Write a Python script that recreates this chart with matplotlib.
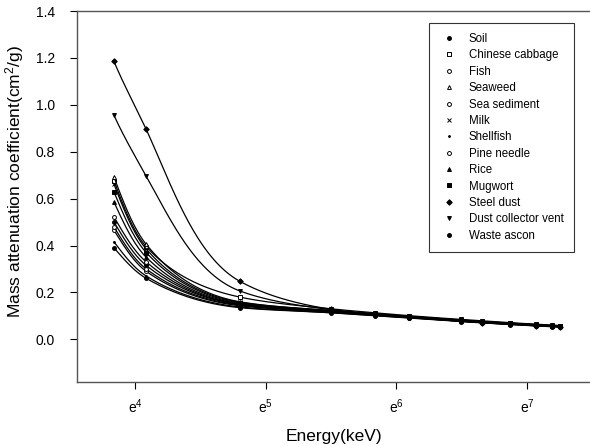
import matplotlib.pyplot as plt
import numpy as np
from matplotlib.ticker import FixedLocator, FuncFormatter

plt.rcParams["font.family"] = "Liberation Sans"
plt.rcParams["mathtext.fontset"] = "custom"
plt.rcParams["mathtext.rm"] = "Liberation Sans"

# Gamma energies (keV)
energy = [46.5, 59.5, 122, 245, 344, 444, 662, 779, 964, 1173, 1332, 1408]

# Mass attenuation coefficients (cm2/g)
soil = [0.500, 0.315, 0.148, 0.117, 0.104, 0.094, 0.078, 0.072, 0.066, 0.060, 0.056, 0.055]
chinese_cabbage = [0.675, 0.395, 0.180, 0.130, 0.113, 0.101, 0.085, 0.079, 0.071, 0.065, 0.061, 0.059]
fish = [0.522, 0.330, 0.150, 0.121, 0.107, 0.097, 0.081, 0.075, 0.068, 0.062, 0.058, 0.056]
seaweed = [0.692, 0.405, 0.160, 0.122, 0.108, 0.098, 0.082, 0.076, 0.069, 0.063, 0.059, 0.057]
sea_sediment = [0.465, 0.290, 0.143, 0.116, 0.103, 0.093, 0.077, 0.072, 0.065, 0.059, 0.056, 0.054]
milk = [0.661, 0.385, 0.158, 0.123, 0.109, 0.098, 0.082, 0.076, 0.069, 0.063, 0.059, 0.057]
shellfish = [0.415, 0.270, 0.138, 0.114, 0.101, 0.092, 0.077, 0.071, 0.064, 0.058, 0.055, 0.053]
pine_needle = [0.479, 0.300, 0.146, 0.119, 0.106, 0.096, 0.080, 0.074, 0.067, 0.061, 0.057, 0.055]
rice = [0.585, 0.350, 0.152, 0.120, 0.106, 0.096, 0.080, 0.074, 0.067, 0.061, 0.057, 0.055]
mugwort = [0.628, 0.370, 0.155, 0.121, 0.107, 0.097, 0.081, 0.075, 0.068, 0.062, 0.058, 0.056]
steel_dust = [1.185, 0.895, 0.247, 0.128, 0.106, 0.094, 0.077, 0.071, 0.064, 0.058, 0.055, 0.053]
dust_collector_vent = [0.955, 0.696, 0.206, 0.126, 0.107, 0.096, 0.079, 0.073, 0.066, 0.060, 0.056, 0.054]
waste_ascon = [0.390, 0.260, 0.135, 0.113, 0.100, 0.091, 0.076, 0.070, 0.063, 0.057, 0.054, 0.052]

names = ["Soil", "Chinese cabbage", "Fish", "Seaweed", "Sea sediment", "Milk",
         "Shellfish", "Pine needle", "Rice", "Mugwort", "Steel dust",
         "Dust collector vent", "Waste ascon"]
series = [soil, chinese_cabbage, fish, seaweed, sea_sediment, milk, shellfish,
          pine_needle, rice, mugwort, steel_dust, dust_collector_vent, waste_ascon]
markers = ["o", "s", "o", "^", "o", "x", ".", "o", "^", "s", "D", "v", "o"]
filled = [True, False, False, False, False, True, True, False, True, True, True, True, True]


def pchip(x, y, xs):
    # monotone cubic hermite, used to draw the smooth curve through the points
    x = np.asarray(x, float)
    y = np.asarray(y, float)
    h = np.diff(x)
    d = np.diff(y) / h
    m = np.zeros_like(y)
    for k in range(1, len(x) - 1):
        if d[k - 1] * d[k] > 0:
            w1 = 2 * h[k] + h[k - 1]
            w2 = h[k] + 2 * h[k - 1]
            m[k] = (w1 + w2) / (w1 / d[k - 1] + w2 / d[k])
    m[0] = d[0]
    m[-1] = d[-1]
    idx = np.clip(np.searchsorted(x, xs) - 1, 0, len(x) - 2)
    t = (xs - x[idx]) / h[idx]
    h00 = 2 * t**3 - 3 * t**2 + 1
    h10 = t**3 - 2 * t**2 + t
    h01 = -2 * t**3 + 3 * t**2
    h11 = t**3 - t**2
    return h00 * y[idx] + h10 * h[idx] * m[idx] + h01 * y[idx + 1] + h11 * h[idx] * m[idx + 1]


fig = plt.figure(figsize=(5.9, 4.46), dpi=100)
ax = fig.add_axes([0.1305, 0.1424, 0.8695, 0.8329])

lnE = np.log(energy)
xs = np.linspace(lnE[0], lnE[-1], 400)
for name, mu, mk, fl in zip(names, series, markers, filled):
    curve = np.exp(pchip(lnE, np.log(mu), xs))
    ax.plot(np.exp(xs), curve, color="black", lw=0.9)
    ax.plot(energy, mu, ls="none", marker=mk, ms=2.8 if mk != "." else 2.6,
            mfc="black" if fl else "white", mec="black", mew=0.7, label=name)

ax.set_xscale("log", base=np.e)
ax.set_xlim(np.exp(3.556), np.exp(7.483))
ax.set_ylim(-0.184, 1.4)
ax.xaxis.set_major_locator(FixedLocator(np.exp([4, 5, 6, 7])))
ax.xaxis.set_major_formatter(FuncFormatter(
    lambda v, p: r"$\mathregular{e^{%d}}$" % round(np.log(v))))
ax.xaxis.set_minor_locator(FixedLocator([]))
ax.set_yticks(np.arange(0, 1.41, 0.2))
ax.yaxis.set_major_formatter(FuncFormatter(lambda v, p: "%.1f" % v))
ax.tick_params(direction="out", length=5, width=0.8, labelsize=10)
ax.tick_params(axis="x", pad=6)
ax.tick_params(axis="y", pad=11)
ax.spines["right"].set_visible(False)
for s in ["left", "bottom", "top"]:
    ax.spines[s].set_color("#555555")
    ax.spines[s].set_linewidth(1.0)

ax.set_xlabel("Energy(keV)", fontsize=12.5, labelpad=9)
ax.set_ylabel(r"Mass attenuation coefficient(cm$\mathregular{^2}$/g)", fontsize=12.5)
ax.yaxis.set_label_coords(-0.1, 0.54)

leg = ax.legend(loc="upper right", bbox_to_anchor=(0.983, 0.962),
                bbox_transform=fig.transFigure, fontsize=8.3, frameon=True,
                fancybox=False, borderpad=0.9, numpoints=1, handlelength=1.8,
                handletextpad=0.8, labelspacing=0.38)
leg.get_frame().set_edgecolor("black")
leg.get_frame().set_linewidth(0.8)

fig.savefig("out.png", dpi=100)
